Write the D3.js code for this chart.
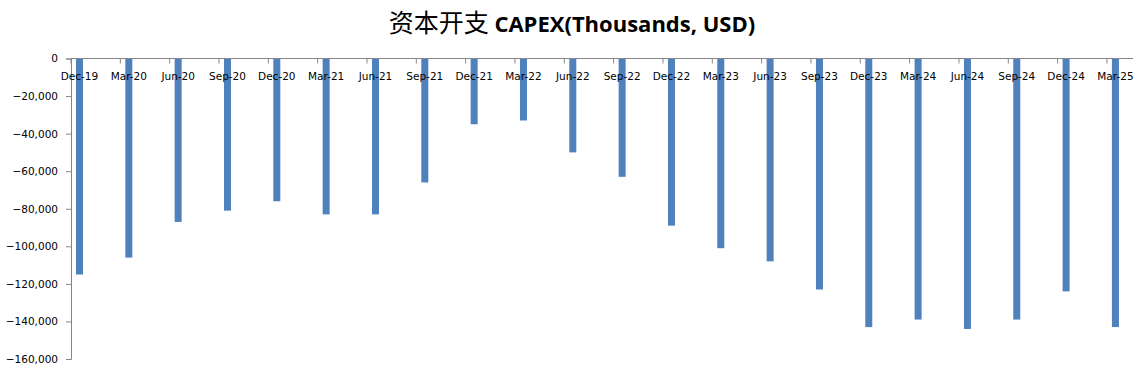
<!DOCTYPE html>
<html><head><meta charset="utf-8"><title>资本开支 CAPEX</title>
<style>
  body { margin: 0; background: #fff; }
  svg { display: block; }
  .tick text { font-family: 'DejaVu Sans', sans-serif; font-size: 10.5px; fill: #000; }
</style>
</head>
<body>
  <svg id="chart" width="1137" height="377"></svg>

  <script src="https://cdnjs.cloudflare.com/ajax/libs/d3/7.8.5/d3.min.js"></script>
  <script>
    const quarters = ["Dec-19", "Mar-20", "Jun-20", "Sep-20", "Dec-20", "Mar-21", "Jun-21", "Sep-21",
      "Dec-21", "Mar-22", "Jun-22", "Sep-22", "Dec-22", "Mar-23", "Jun-23", "Sep-23",
      "Dec-23", "Mar-24", "Jun-24", "Sep-24", "Dec-24", "Mar-25"];
    const capex = [-115000, -106000, -87000, -81000, -76000, -83000, -83000, -66000,
      -35000, -33000, -50000, -63000, -89000, -101000, -108000, -123000,
      -143000, -139000, -144000, -139000, -124000, -143000];
    const yTicks = [0, -20000, -40000, -60000, -80000, -100000, -120000, -140000, -160000];

    const svg = d3.select("#chart");
    const plotLeft = 71, plotTop = 58.5, plotBottom = 359;
    const step = 49.33;

    // category slots; the bar sits at the left side of each slot
    const x = d3.scaleBand()
      .domain(quarters)
      .range([plotLeft, plotLeft + step * quarters.length]);
    const y = d3.scaleLinear().domain([0, -160000]).range([plotTop, plotBottom]);

    const barW = 7;
    const barOffset = 8.5;
    const fmt = d3.format(",");

    // title
    const title = svg.append("text")
      .attr("x", 572)
      .attr("y", 32)
      .attr("text-anchor", "middle");
    title.append("tspan")
      .attr("font-family", "'Noto Sans CJK SC', sans-serif")
      .attr("font-size", 25)
      .text("资本开支 ");
    title.append("tspan")
      .attr("font-family", "'Open Sans', sans-serif")
      .attr("font-weight", "bold")
      .attr("font-size", 22)
      .text("CAPEX(Thousands, USD)");

    // bars
    svg.append("g")
      .selectAll("rect")
      .data(capex)
      .enter().append("rect")
      .attr("x", (d, i) => x(quarters[i]) + barOffset - barW / 2)
      .attr("y", y(0))
      .attr("width", barW)
      .attr("height", d => y(d) - y(0))
      .attr("fill", "#4f81bd");

    // y axis
    const yAxis = svg.append("g")
      .attr("transform", `translate(${plotLeft},0)`)
      .call(d3.axisLeft(y).tickValues(yTicks).tickFormat(fmt).tickSize(5).tickPadding(8));
    yAxis.select(".domain").attr("stroke", "#868686");
    yAxis.selectAll(".tick line").attr("stroke", "#868686");

    // x axis at zero: ticks between categories, labels under each bar
    const xg = svg.append("g");
    xg.append("line")
      .attr("x1", plotLeft).attr("x2", 1133)
      .attr("y1", y(0)).attr("y2", y(0))
      .attr("stroke", "#868686");
    xg.selectAll(".xt")
      .data(quarters)
      .enter().append("line")
      .attr("x1", d => x(d)).attr("x2", d => x(d))
      .attr("y1", y(0)).attr("y2", y(0) + 5)
      .attr("stroke", "#868686");
    xg.selectAll(".xl")
      .data(quarters)
      .enter().append("text")
      .attr("x", d => x(d) + barOffset)
      .attr("y", y(0) + 21)
      .attr("text-anchor", "middle")
      .attr("font-family", "'DejaVu Sans', sans-serif")
      .attr("font-size", 10.5)
      .text(d => d);
  </script>
</body></html>
